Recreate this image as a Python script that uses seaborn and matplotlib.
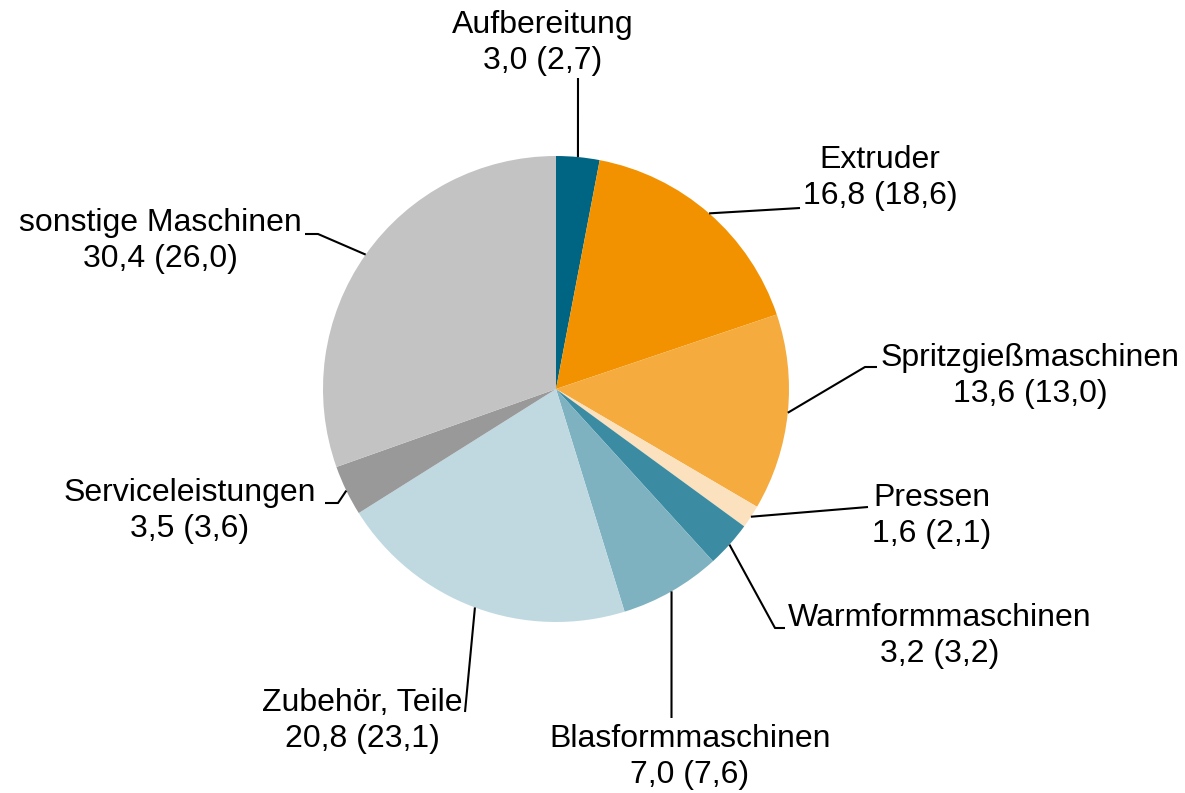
import numpy as np
import matplotlib
matplotlib.use("Agg")
import matplotlib.pyplot as plt
import seaborn as sns

# Anteile in % (Vorjahr in Klammern)
categories = ["Aufbereitung", "Extruder", "Spritzgießmaschinen", "Pressen",
              "Warmformmaschinen", "Blasformmaschinen", "Zubehör, Teile",
              "Serviceleistungen", "sonstige Maschinen"]
values = [3.0, 16.8, 13.6, 1.6, 3.2, 7.0, 20.8, 3.5, 30.4]
prev_values = [2.7, 18.6, 13.0, 2.1, 3.2, 7.6, 23.1, 3.6, 26.0]
colors = ["#006583", "#f39200", "#f6ab3e", "#fbe1bd", "#3b8ca2",
          "#7fb2c1", "#c0d9e1", "#999999", "#c3c3c3"]

sns.set_theme(style="white")
plt.rcParams['font.family'] = ['Liberation Sans', 'DejaVu Sans']

W, H = 1185, 793
fig = plt.figure(figsize=(W / 100, H / 100), dpi=100)
ax = fig.add_axes([0, 0, 1, 1])

cx, cy, r = 556, 389, 233


def fy(y):
    return H - y


ax.pie(values, colors=colors, startangle=90, counterclock=False,
       center=(cx, fy(cy)), radius=r, wedgeprops=dict(linewidth=0))
ax.set_xlim(0, W)
ax.set_ylim(0, H)
ax.set_aspect('equal')
ax.axis('off')

# Beschriftung: Textmitte und Knickpunkte der Führungslinien (Pixel)
label_pos = [(543, 43), (880, 178), (1030, 376), (932, 516), (940, 636),
             (690, 757), (362, 721), (190, 511), (160, 241)]
elbows = [
    [(578, 78)],
    [(800, 208)],
    [(865, 367), (877, 367)],
    [(868, 507)],
    [(775, 628), (785, 628)],
    [(671.5, 718)],
    [(465, 712)],
    [(338, 503), (325, 503)],
    [(318, 234), (305, 234)],
]


def fmt(v):
    return f"{v:.1f}".replace(".", ",")


cum = np.cumsum([0] + values[:-1])
total = sum(values)
for i, cat in enumerate(categories):
    mid = (cum[i] + values[i] / 2) / total * 2 * np.pi
    sx = cx + r * np.sin(mid)
    sy = cy - r * np.cos(mid)
    pts = [(sx, sy)] + elbows[i]
    ax.plot([p[0] for p in pts], [fy(p[1]) for p in pts],
            color="black", lw=1.5, solid_capstyle="butt")
    tx, ty = label_pos[i]
    ax.text(tx, fy(ty), f"{cat}\n{fmt(values[i])} ({fmt(prev_values[i])})",
            ha="center", va="center", fontsize=23, linespacing=1.28,
            color="black")

fig.savefig("out.png", dpi=100)
